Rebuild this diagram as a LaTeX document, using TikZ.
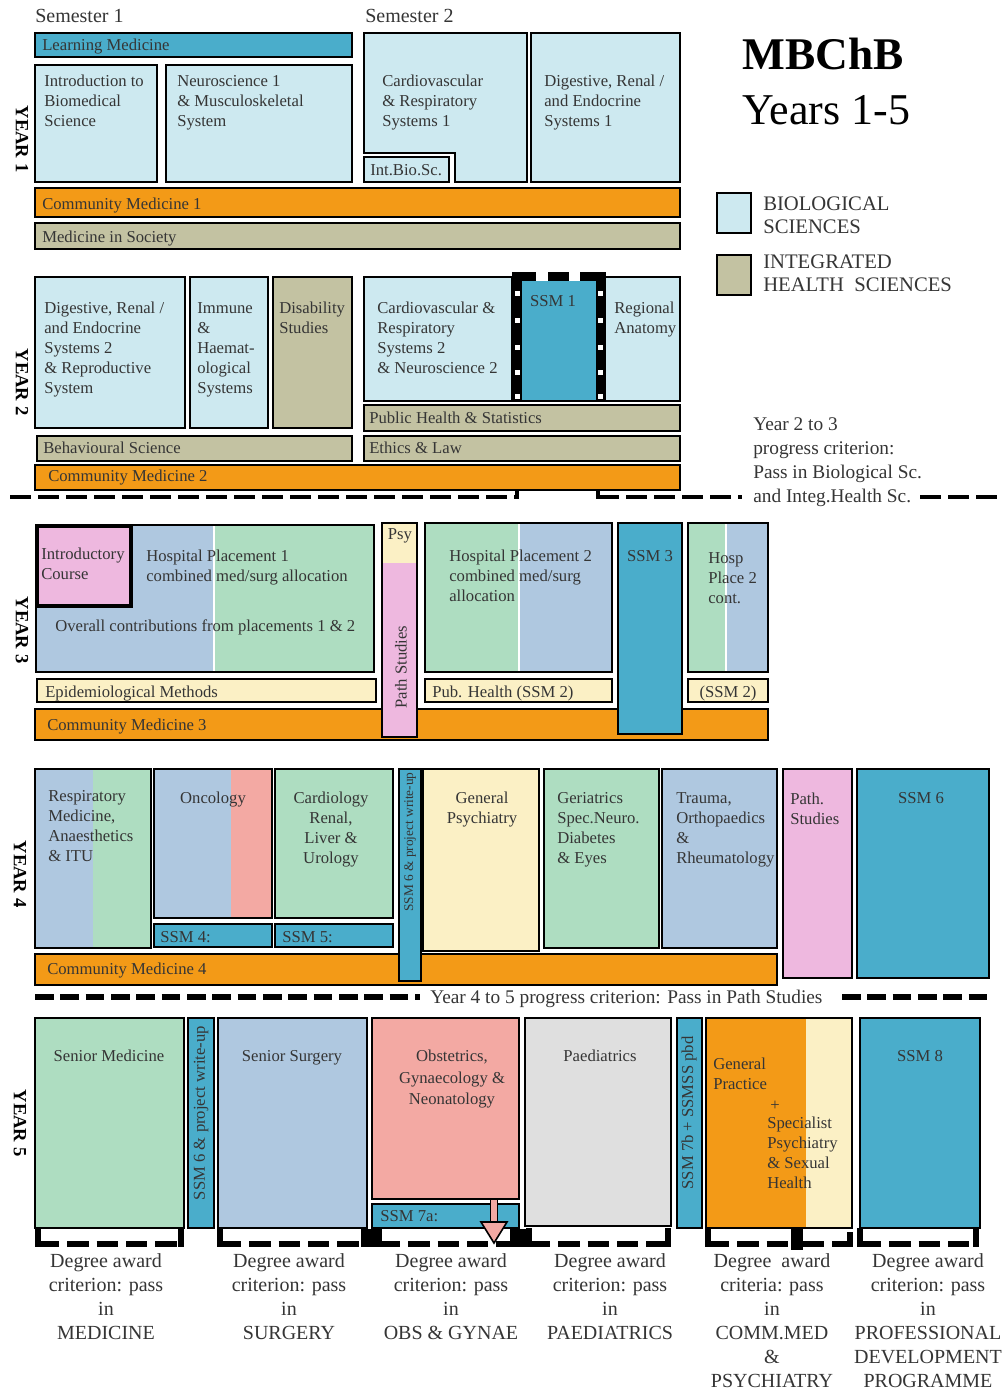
\documentclass[tikz,border=0pt]{standalone}
\usepackage{fontspec}
\setmainfont{Liberation Serif}
\definecolor{lb}{HTML}{CDE9F0}
\definecolor{ssm}{HTML}{4AADCB}
\definecolor{orng}{HTML}{F39A17}
\definecolor{khaki}{HTML}{C3C2A2}
\definecolor{pblue}{HTML}{AFC8E0}
\definecolor{pgreen}{HTML}{AEDDC1}
\definecolor{ppink}{HTML}{EEB8DF}
\definecolor{cream}{HTML}{FBF0C5}
\definecolor{salmon}{HTML}{F3A9A3}
\definecolor{pgrey}{HTML}{DFDFDF}
\definecolor{txt}{HTML}{353535}
\newcommand\fs{\fontsize{12.5}{15}\selectfont}
\newcommand\fl{\fontsize{14.5}{18}\selectfont}
\newcommand\fd{\fontsize{15}{18}\selectfont}
\newcommand\mybox[5]{\filldraw[fill=#1,bord] (#2,#3) rectangle (#4,#5);}
\newcommand\mysplit[7]{\fill[#1] (#3,#4) rectangle (#5,#7); \fill[#2] (#5,#4) rectangle (#6,#7); \draw[bord] (#3,#4) rectangle (#6,#7);}
\newcommand\brkt[2]{\draw[brkh] (#1,1244) -- (#2,1244); \draw[brkv] (#1,1228) -- (#1,1247); \draw[brkv] (#2,1228) -- (#2,1247);}
\tikzset{
 bord/.style={draw=black,line width=1.7pt},
 tl/.style={anchor=north west,yshift=7.6pt,execute at begin node=\strut,inner sep=0pt,align=left,font=\fs,text=txt},
 tc/.style={anchor=north,yshift=7.6pt,execute at begin node=\strut,inner sep=0pt,align=center,font=\fs,text=txt},
 yr/.style={rotate=-90,inner sep=0pt,font=\fontsize{14}{14}\selectfont\bfseries,text=black},
 vt/.style={rotate=90,inner sep=0pt,font=\fs,text=txt},
 dg/.style={anchor=north,yshift=9.6pt,execute at begin node=\strut,inner sep=0pt,align=center,font=\fd,text=txt},
 prog/.style={line width=3.5pt,dash pattern=on 16pt off 5pt},
 prog2/.style={line width=4.5pt,dash pattern=on 14pt off 5pt},
 brkh/.style={line width=4.5pt,dash pattern=on 16pt off 6pt},
 brkv/.style={line width=4.5pt},
}
\begin{document}
\begin{tikzpicture}[x=0.75pt,y=-0.75pt]
\useasboundingbox (0,0) rectangle (1006,1391);
\fill[white] (0,0) rectangle (1006,1391);

% ---------- title & legend
\node[anchor=base west,inner sep=0pt,font=\fontsize{34}{34}\selectfont\bfseries] (title) at (742,70) {MBChB};
\node[anchor=base west,inner sep=0pt,font=\fontsize{33}{33}\selectfont] (years) at (742,125) {Years 1-5};
\filldraw[fill=lb,bord] (717,193) rectangle (751,233);
\filldraw[fill=khaki,bord] (717,255) rectangle (751,295);
\node[anchor=north west,yshift=10pt,execute at begin node=\strut,inner sep=0pt,align=left,font=\fontsize{15.5}{17.5}\selectfont,text=txt] (legb) at (763,210) {BIOLOGICAL\\SCIENCES};
\node[anchor=north west,yshift=10pt,execute at begin node=\strut,inner sep=0pt,align=left,font=\fontsize{15.5}{17.5}\selectfont,text=txt] (legi) at (763,268) {INTEGRATED\\HEALTH\ \ SCIENCES};

\node[anchor=base west,inner sep=0pt,font=\fontsize{15}{15}\selectfont,text=txt] (sem1) at (35,23) {Semester 1};
\node[anchor=base west,inner sep=0pt,font=\fontsize{15}{15}\selectfont,text=txt] (sem2) at (365,23) {Semester 2};

% ---------- YEAR 1
\mybox{ssm}{35}{33}{352}{57}
\mybox{lb}{35}{65}{157}{182}
\mybox{lb}{166}{65}{352}{182}
\filldraw[fill=lb,bord] (364,33) -- (527,33) -- (527,182) -- (455,182) -- (455,153) -- (364,153) -- cycle;
\mybox{lb}{364}{157}{449}{182}
\mybox{lb}{531}{33}{680}{182}
\mybox{orng}{35}{188}{680}{217}
\mybox{khaki}{35}{223}{680}{249}
\node[tl] (lm) at (42,46) {Learning Medicine};
\node[tl] (ibs) at (44,85) {Introduction to\\Biomedical\\Science};
\node[tl] (neu) at (177,85) {Neuroscience 1\\\& Musculoskeletal\\System};
\node[tl] (cv1) at (382,85) {Cardiovascular\\\& Respiratory\\Systems 1};
\node[tl] (dr1) at (544,85) {Digestive, Renal /\\and Endocrine\\Systems 1};
\node[tl] (ibsc) at (370,171) {Int.Bio.Sc.};
\node[tl] (cm1) at (42,205) {Community Medicine 1};
\node[tl] (mis) at (42,238) {Medicine in Society};
\node[yr] (y1) at (22,139) {YEAR 1};

% ---------- YEAR 2
\mybox{lb}{35}{277}{185}{428}
\mybox{lb}{190}{277}{268}{428}
\mybox{khaki}{273}{277}{352}{428}
\mybox{lb}{364}{277}{512}{401}
\mybox{lb}{605}{277}{680}{401}
\fill[ssm] (522,281) rectangle (596,401);
\fill[black] (512,272) rectangle (522,402);
\fill[black] (596,272) rectangle (606,402);
\fill[black] (512,272) rectangle (536,281);
\fill[black] (548,272) rectangle (569,281);
\fill[black] (580,272) rectangle (606,281);
\draw[bord] (512,401) -- (606,401);
\foreach \yy in {293,320,347,372,396}{
 \fill[white] (515,\yy-2.5) rectangle (520,\yy+2.5);
 \fill[white] (598,\yy-2.5) rectangle (603,\yy+2.5);
}
\mybox{khaki}{364}{405}{680}{431}
\mybox{khaki}{364}{436}{680}{461}
\mybox{khaki}{37}{436}{352}{461}
\mybox{orng}{35}{465}{680}{490}
\node[tl] (dr2) at (44,312) {Digestive, Renal /\\and Endocrine\\Systems 2\\\& Reproductive\\System};
\node[tl] (imm) at (197,312) {Immune\\\&\\Haemat-\\ological\\Systems};
\node[tl] (dis) at (279,312) {Disability\\Studies};
\node[tl] (cv2) at (377,312) {Cardiovascular \&\\Respiratory\\Systems 2\\\& Neuroscience 2};
\node[tc] (ssm1) at (553,302) {SSM 1};
\node[tl] (ra) at (614,312) {Regional\\Anatomy};
\node[tl] (phs) at (369,419) {Public Health \& Statistics};
\node[tl] (el) at (369,449) {Ethics \& Law};
\node[tl] (bs) at (43,449) {Behavioural Science};
\node[tl] (cm2) at (48,477) {Community Medicine 2};
\node[yr] (y2) at (22,382) {YEAR 2};

% progress line 2 -> 3
\draw[prog] (10,497) -- (516,497);
\draw[line width=3.5pt] (517,489) -- (517,499);
\draw[line width=3.5pt] (598,489) -- (598,499);
\draw[prog] (598,497) -- (742,497);
\draw[prog] (920,497) -- (998,497);
\node[anchor=north west,yshift=10pt,execute at begin node=\strut,inner sep=0pt,align=left,font=\fl,text=txt] (crit23) at (753,431) {Year 2 to 3\\progress criterion:\\Pass in Biological Sc.\\and Integ.Health Sc.};

% ---------- YEAR 3
\mybox{orng}{35}{709}{768}{740}
\mysplit{pblue}{pgreen}{36}{525}{214}{374}{672}
\draw[white,line width=1pt] (214,526) -- (214,671);
\filldraw[fill=ppink,draw=black,line width=2.5pt] (37,526) rectangle (131,606);
\fill[cream] (382,523) rectangle (417,563);
\fill[ppink] (382,563) rectangle (417,737);
\draw[bord] (382,523) rectangle (417,737);
\mysplit{pgreen}{pblue}{425}{523}{519}{612}{672}
\draw[white,line width=1pt] (519,524) -- (519,671);
\mybox{ssm}{618}{523}{682}{734}
\mysplit{pgreen}{pblue}{688}{523}{726}{768}{672}
\draw[white,line width=1pt] (726,524) -- (726,671);
\mybox{cream}{37}{679}{376}{702}
\mybox{cream}{425}{679}{612}{702}
\mybox{cream}{688}{679}{768}{702}
\node[tl] (ic) at (41,558) {Introductory\\Course};
\node[tl] (hp1) at (146,560) {Hospital Placement 1\\combined med/surg allocation};
\node[tl] (ov) at (55,627) {Overall contributions from placements 1 \& 2};
\node[tc] (psy) at (400,535) {Psy};
\node[vt] (ps3) at (401,667) {Path Studies};
\node[tl] (hp2) at (449,560) {Hospital Placement 2\\combined med/surg\\allocation};
\node[tc] (ssm3) at (650,557) {SSM 3};
\node[tl] (hpc) at (708,562) {Hosp\\Place 2\\cont.};
\node[tl] (epi) at (45,693) {Epidemiological Methods};
\node[tl] (pub) at (432,693) {Pub. Health (SSM 2)};
\node[tc] (ssm2) at (728,693) {(SSM 2)};
\node[tl] (cm3) at (47,726) {Community Medicine 3};
\node[yr] (y3) at (22,630) {YEAR 3};

% ---------- YEAR 4
\mybox{orng}{35}{954}{777}{985}
\mysplit{pblue}{pgreen}{35}{769}{93}{151}{948}
\mysplit{pblue}{salmon}{154}{769}{231}{272}{918}
\mybox{pgreen}{275}{769}{393}{918}
\mybox{ssm}{154}{924}{272}{947}
\mybox{ssm}{275}{924}{393}{947}
\mybox{ssm}{399}{769}{421}{981}
\mybox{cream}{423}{769}{539}{951}
\mybox{pgreen}{544}{769}{659}{948}
\mybox{pblue}{662}{769}{777}{948}
\mybox{ppink}{783}{769}{852}{978}
\mybox{ssm}{857}{769}{989}{978}
\node[tl] (resp) at (48,800) {Respiratory\\Medicine,\\Anaesthetics\\\& ITU};
\node[tc] (onc) at (213,799) {Oncology};
\node[tc] (card) at (331,802) {Cardiology\\Renal,\\Liver \&\\Urology};
\node[tc] (gp4) at (482,802) {General\\Psychiatry};
\node[tl] (ger) at (557,802) {Geriatrics\\Spec.Neuro.\\Diabetes\\\& Eyes};
\node[tl] (tra) at (676,802) {Trauma,\\Orthopaedics\\\&\\Rheumatology};
\node[tl] (ps4) at (790,803) {Path.\\Studies};
\node[tc] (ssm6) at (921,799) {SSM 6};
\node[tl] (ssm4) at (160,938) {SSM 4:};
\node[tl] (ssm5) at (282,938) {SSM 5:};
\node[vt,font=\fontsize{10}{10}\selectfont] (v4) at (410,842) {SSM 6 \& project write-up};
\node[tl] (cm4) at (47,970) {Community Medicine 4};
\node[yr] (y4) at (20,874) {YEAR 4};

% progress line 4 -> 5
\draw[prog2] (35,997) -- (420,997);
\draw[prog2] (842,997) -- (992,997);
\node[anchor=base west,inner sep=0pt,font=\fl,text=txt] (crit45) at (430,1003) {Year 4 to 5 progress criterion: Pass in Path Studies};

% ---------- YEAR 5
\mybox{pgreen}{35}{1018}{184}{1228}
\mybox{ssm}{188}{1018}{214}{1228}
\mybox{pblue}{218}{1018}{367}{1228}
\mybox{salmon}{372}{1018}{519}{1199}
\mybox{ssm}{372}{1204}{519}{1228}
\mybox{pgrey}{525}{1018}{671}{1226}
\mybox{ssm}{677}{1018}{702}{1228}
\mysplit{orng}{cream}{706}{1018}{806}{852}{1228}
\mybox{ssm}{860}{1018}{980}{1228}
\node[tc] (smed) at (109,1057) {Senior Medicine};
\node[tc] (ssur) at (292,1057) {Senior Surgery};
\node[tc,font=\fontsize{12.5}{16}\selectfont] (obs) at (452,1060) {Obstetrics,\\Gynaecology \&\\Neonatology};
\node[tc] (paed) at (600,1057) {Paediatrics};
\node[tc] (ssm8) at (920,1057) {SSM 8};
\node[tl] (gpr) at (713,1068) {General\\Practice};
\node[tl] (plus) at (770,1106) {+};
\node[tl] (spp) at (767,1127) {Specialist\\Psychiatry\\\& Sexual\\Health};
\node[tl] (ssm7a) at (380,1217) {SSM 7a:};
\node[vt] (v5a) at (201,1113) {SSM 6 \& project write-up};
\node[vt] (v5b) at (689,1113) {SSM 7b + SSMSS pbd};
\node[yr] (y5) at (20,1123) {YEAR 5};

% brackets
\brkt{38}{181}
\brkt{220}{364}
\fill[black] (366,1229) rectangle (377,1247);
\brkt{379}{513}
\fill[black] (513,1229) rectangle (527,1247);
\brkt{529}{668}
\brkt{708}{797}
\fill[black] (791,1229) rectangle (803,1250);
\draw[brkh] (803,1244) -- (850,1244);
\draw[brkv] (850,1232) -- (850,1247);
\brkt{860}{976}

% arrow from Obs
\filldraw[fill=salmon,draw=black,line width=0.6pt] (490,1199) rectangle (497,1224);
\filldraw[fill=salmon,draw=black,line width=1.2pt] (481,1222) -- (507,1222) -- (494,1243) -- cycle;

% degree award texts
\node[dg] (d1) at (106,1266) {Degree award\\criterion: pass\\in\\MEDICINE};
\node[dg] (d2) at (289,1266) {Degree award\\criterion: pass\\in\\SURGERY};
\node[dg] (d3) at (451,1266) {Degree award\\criterion: pass\\in\\OBS \& GYNAE};
\node[dg] (d4) at (610,1266) {Degree award\\criterion: pass\\in\\PAEDIATRICS};
\node[dg] (d5) at (772,1266) {Degree\ \ award\\criteria: pass\\in\\COMM.MED\\\&\\PSYCHIATRY};
\node[dg] (d6) at (928,1266) {Degree award\\criterion: pass\\in\\PROFESSIONAL\\DEVELOPMENT\\PROGRAMME};
\end{tikzpicture}
\end{document}
